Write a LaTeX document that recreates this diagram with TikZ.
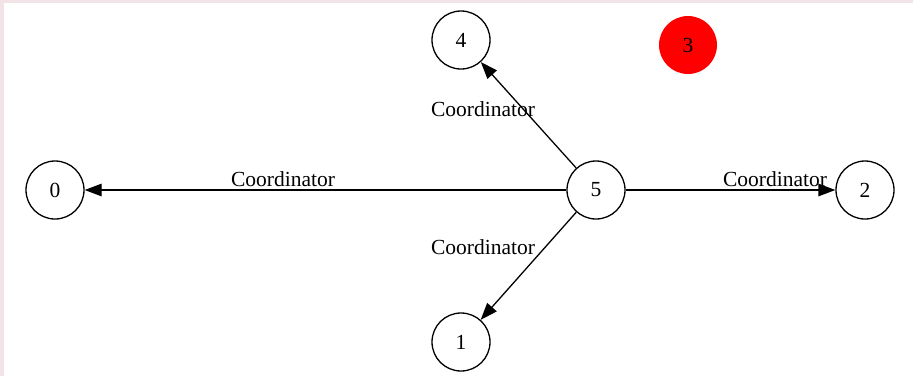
\documentclass[tikz,border=0pt]{standalone}
\usepackage{fontspec}
\setmainfont{Liberation Serif}
\usetikzlibrary{arrows.meta}
\definecolor{framepink}{RGB}{242,228,230}
\begin{document}
\begin{tikzpicture}[x=1pt,y=-1pt,
		agent/.style={draw,circle,line width=1.3pt,minimum size=58pt,inner sep=0pt,font=\fontsize{21.5}{24}\selectfont},
		lead/.style={fill=red,draw=none},
		lbl/.style={inner sep=0pt,font=\fontsize{21.5}{24}\selectfont},
		flow/.style={line width=1.3pt,-{Triangle[length=17pt,width=12.5pt]}}]
	\fill[framepink] (0,0) rectangle (913,376);
	\fill[white] (4,3) rectangle (913,376);
	\useasboundingbox (0,0) rectangle (913,376);
	\foreach \i/\x/\y in {0/55/190,1/461/342,2/865/190,4/461/40,5/596/190} {
			\node[agent] (\i) at (\x,\y) {\i};
		}
	\node[agent,lead] (3) at (688,45) {3};
	\foreach \j in {0,1,2,4} {
			\draw[flow] (5) -- (\j);
		}
	\node[lbl] (l0) at (283,179) {Coordinator};
	\node[lbl] (l1) at (483,247) {Coordinator};
	\node[lbl] (l2) at (775,179) {Coordinator};
	\node[lbl] (l4) at (483,109) {Coordinator};
\end{tikzpicture}
\end{document}
